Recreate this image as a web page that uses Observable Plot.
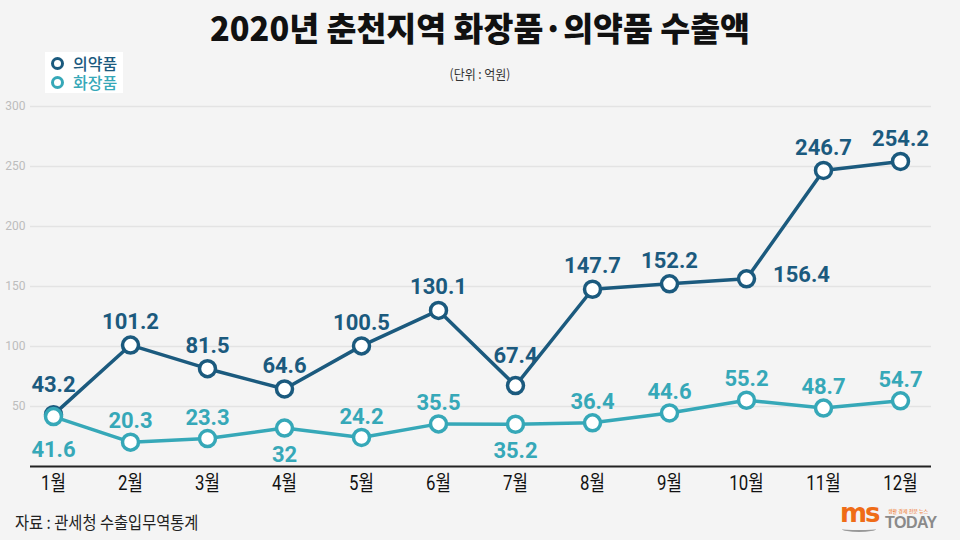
<!DOCTYPE html>
<html><head><meta charset="utf-8">
<script src="https://cdn.jsdelivr.net/npm/d3@7"></script>
<script src="https://cdn.jsdelivr.net/npm/@observablehq/plot@0.6"></script>
<style>
body{margin:0;background:#f4f4f4;}
#wrap{position:relative;width:960px;height:540px;overflow:hidden;background:#f4f4f4;font-family:"Noto Sans CJK KR","Noto Sans",sans-serif;}
#title{position:absolute;top:4px;left:0;width:960px;text-align:center;font-size:33px;font-weight:900;color:#111;line-height:46px;transform:scaleX(0.985);transform-origin:481px 0;white-space:nowrap;}
#sub{position:absolute;top:66px;left:0;width:960px;height:16px;font-size:13px;color:#333;line-height:16px;}
#sub span{position:absolute;left:480px;white-space:nowrap;transform:translateX(-50%) scaleX(0.92);}
#legend{position:absolute;left:45px;top:52px;width:78px;height:41px;background:#fff;}
.li{position:absolute;left:6px;height:17px;display:flex;align-items:center;font-size:16px;font-weight:500;line-height:17px;}
.li i{display:inline-block;width:7px;height:7px;border-radius:50%;border:3px solid;margin-right:9px;background:#fff;}
#chart{position:absolute;left:0;top:95px;}
#caption{position:absolute;left:15px;top:510px;font-size:17px;color:#222;line-height:24px;transform:scaleX(0.9);transform-origin:0 0;white-space:nowrap;}
#logo{position:absolute;left:840px;top:502px;width:110px;height:34px;}
#logo .ms{position:absolute;left:0;top:-4px;font-family:"DejaVu Sans",sans-serif;font-weight:bold;font-size:26px;color:#ef6c17;letter-spacing:-2px;}
#logo .tg{position:absolute;left:48px;top:6px;font-size:5px;line-height:6px;color:#ef6c17;white-space:nowrap;}
#logo .td{position:absolute;left:45px;top:12px;font-family:"Liberation Sans",sans-serif;font-weight:bold;font-size:16px;line-height:18px;color:#8a8a8a;letter-spacing:-0.5px;}
#logo .sw{position:absolute;left:2px;top:24px;width:34px;height:4px;border-bottom:2px solid #999;border-radius:0 0 50% 50%;}
</style>
</head><body>
<div id="wrap">
  <div id="title">2020년 춘천지역 화장품·의약품 수출액</div>
  <div id="sub"><span>(단위 : 억원)</span></div>
  <div id="chart"></div>
  <div id="legend"></div>
  <div id="caption">자료 : 관세청 수출입무역통계</div>
  <div id="logo"><span class="ms">ms</span><span class="tg">생활 경제 전문 뉴스</span><span class="td">TODAY</span><span class="sw"></span></div>
</div>
<script>
const months = ["1월","2월","3월","4월","5월","6월","7월","8월","9월","10월","11월","12월"];
const pharma = [43.2,101.2,81.5,64.6,100.5,130.1,67.4,147.7,152.2,156.4,246.7,254.2];
const cosmetics = [41.6,20.3,23.3,32,24.2,35.5,35.2,36.4,44.6,55.2,48.7,54.7];
const seriesNames = ["의약품","화장품"];
const seriesColors = ["#1b5a7e","#36a8b8"];
const yTicks = [50,100,150,200,250,300];

const rows = [
  ...months.map((m,i)=>({month:m, series:seriesNames[0], value:pharma[i]})),
  ...months.map((m,i)=>({month:m, series:seriesNames[1], value:cosmetics[i]}))
];
const fmt = v => String(v);

// label placement rules (styling, not data)
const pharmaRight = new Set(["10월"]);
const pharmaHigh = new Set(["1월","7월"]);
const cosBelow = new Set(["1월","4월","7월"]);

const P = rows.filter(d=>d.series===seriesNames[0]);
const C = rows.filter(d=>d.series===seriesNames[1]);

const txt = (data, color, dx, dy) => Plot.text(data, {
  x:"month", y:"value", text:d=>fmt(d.value), fill:color, dx, dy,
  fontSize:22, fontWeight:"bold", fontFamily:"Roboto, sans-serif"
});

const chart = Plot.plot({
  width:960, height:420,
  marginLeft:30, marginRight:29, marginTop:11, marginBottom:49,
  style:{background:"transparent", fontFamily:"'Noto Sans CJK KR', sans-serif"},
  x:{type:"point", domain:months, range:[52,900], padding:0, label:null},
  y:{domain:[0,300], range:[371,11], label:null},
  color:{domain:seriesNames, range:seriesColors},
  marks:[
    Plot.ruleY(yTicks, {stroke:"#e3e3e3", strokeWidth:1.5}),
    Plot.axisY({ticks:yTicks, tickSize:0, tickPadding:5, fontSize:12, color:"#bdbdbd", tickFormat:d=>d, label:null, fontFamily:"Roboto, sans-serif"}),
    Plot.ruleY([0], {stroke:"#222", strokeWidth:2}),
    Plot.axisX({tickSize:0, tickPadding:9, fontSize:21, color:"#111", fontWeight:400, label:null, fontFamily:"Roboto, 'Noto Sans CJK KR', sans-serif"}),
    Plot.lineY(P, {x:"month", y:"value", stroke:"series", strokeWidth:3.5}),
    Plot.dot(P, {x:"month", y:"value", r:8, fill:"white", stroke:"series", strokeWidth:3.5}),
    Plot.lineY(C, {x:"month", y:"value", stroke:"series", strokeWidth:3.5}),
    Plot.dot(C, {x:"month", y:"value", r:8, fill:"white", stroke:"series", strokeWidth:3.5}),
    txt(P.filter(d=>!pharmaRight.has(d.month) && !pharmaHigh.has(d.month)), seriesColors[0], 0, -23),
    txt(P.filter(d=>pharmaHigh.has(d.month)), seriesColors[0], 0, -30),
    txt(P.filter(d=>pharmaRight.has(d.month)), seriesColors[0], 55, -4),
    txt(C.filter(d=>!cosBelow.has(d.month)), seriesColors[1], 0, -21),
    txt(C.filter(d=>cosBelow.has(d.month) && d.month!=="1월"), seriesColors[1], 0, 27),
    txt(C.filter(d=>d.month==="1월"), seriesColors[1], 0, 33)
  ]
});
document.getElementById("chart").appendChild(chart);

// condense month tick labels like the reference
chart.querySelectorAll('g[aria-label="x-axis tick label"] text').forEach(t=>{
  const tr = t.getAttribute("transform") || "";
  t.setAttribute("transform", tr + " scale(0.8,1)");
});

// legend
const lg = document.getElementById("legend");
seriesNames.forEach((s,i)=>{
  const el = document.createElement("div");
  el.className = "li";
  el.style.top = (3 + i*19) + "px";
  el.style.color = seriesColors[i];
  el.innerHTML = `<i style="border-color:${seriesColors[i]}"></i>${s}`;
  lg.appendChild(el);
});
</script>
</body></html>
